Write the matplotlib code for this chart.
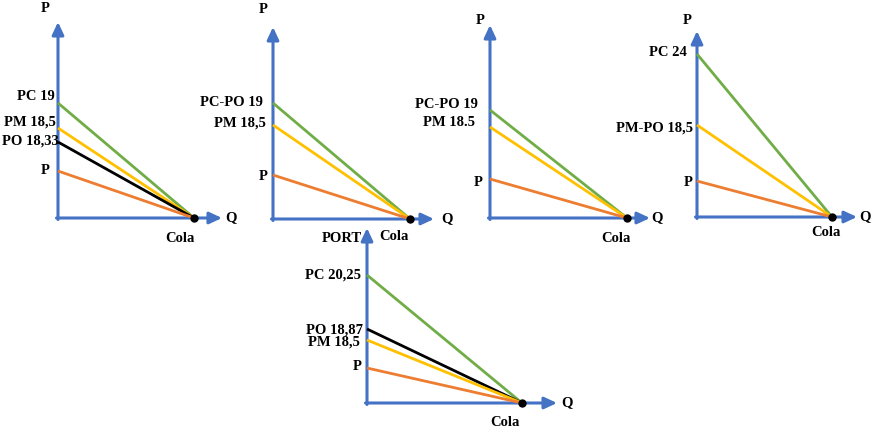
import matplotlib
matplotlib.use("Agg")
import matplotlib.pyplot as plt

W, H = 873, 433

# ---- data (heights/lengths in picture units, y up from each origin) ----
# panel 1
p1_labels = ["PC 19", "PM 18,5", "PO 18,33", "P"]
p1_heights = [115, 90, 76, 47]
p1_colors = ["green", "yellow", "black", "orange"]
p1_cola = 136
# panel 2
p2_labels = ["PC-PO 19", "PM 18,5", "P"]
p2_heights = [116, 94, 44]
p2_colors = ["green", "yellow", "orange"]
p2_cola = 137
# panel 3
p3_labels = ["PC-PO 19", "PM 18.5", "P"]
p3_heights = [108, 91, 39]
p3_colors = ["green", "yellow", "orange"]
p3_cola = 137
# panel 4
p4_labels = ["PC 24", "PM-PO 18,5", "P"]
p4_heights = [163, 92, 36]
p4_colors = ["green", "yellow", "orange"]
p4_cola = 135
# panel 5
p5_labels = ["PC 20,25", "PO 18,87", "PM 18,5", "P"]
p5_heights = [128, 74, 63, 35]
p5_colors = ["green", "black", "yellow", "orange"]
p5_cola = 155

COLORS = {"green": "#70AD47", "yellow": "#FFC000", "black": "#000000",
          "orange": "#ED7D31"}
AXIS_C = "#4472C4"

# ---- layout ----
panels = [
    dict(origin=(58, 218), xlen=164, ylen=196, labels=p1_labels, heights=p1_heights,
         colors=p1_colors, cola=p1_cola,
         label_pos=[(-3, 121), (-2, 96), (1, 77), (-8, 48)],
         top=("P", -13, 209), colapos=(122, -20), q=(173, 0)),
    dict(origin=(273, 219), xlen=161, ylen=192, labels=p2_labels, heights=p2_heights,
         colors=p2_colors, cola=p2_cola,
         label_pos=[(-10, 117), (-7, 96), (-5, 42)],
         top=("P", -10, 209), colapos=(121, -18), q=(174, 0)),
    dict(origin=(490, 218), xlen=160, ylen=193, labels=p3_labels, heights=p3_heights,
         colors=p3_colors, cola=p3_cola,
         label_pos=[(-12, 114), (-15, 95), (-7, 36)],
         top=("P", -10, 198), colapos=(126, -20), q=(167, 0)),
    dict(origin=(697, 217), xlen=160, ylen=186, labels=p4_labels, heights=p4_heights,
         colors=p4_colors, cola=p4_cola,
         label_pos=[(-10, 164), (-4, 89), (-4, 35)],
         top=("P", -10, 197), colapos=(129, -16), q=(168, 0)),
    dict(origin=(367, 403), xlen=190, ylen=175, labels=p5_labels, heights=p5_heights,
         colors=p5_colors, cola=p5_cola,
         label_pos=[(-6, 128), (-4, 73), (-7, 61), (-5, 36)],
         top=None, colapos=(138, -20), q=(200, 0),
         extra=[("PORT", -5, 164, "right")]),
]

fig = plt.figure(figsize=(W / 100, H / 100), dpi=100)
fig.patch.set_facecolor("white")
font = dict(family="Liberation Serif", fontweight="bold", fontsize=10.5, color="black")

for p in panels:
    ox, oy = p["origin"]
    xl, yl = p["xlen"], p["ylen"]
    ax = fig.add_axes([ox / W, (H - oy) / H, xl / W, yl / H])
    ax.set_xlim(0, xl)
    ax.set_ylim(0, yl)
    ax.axis("off")
    # price lines
    for h, c in zip(p["heights"], p["colors"]):
        ax.plot([0, p["cola"]], [h, 0], color=COLORS[c], lw=2.0,
                solid_capstyle="butt", clip_on=False, zorder=3)
    # axes arrows
    ap = dict(arrowstyle="-|>,head_length=0.75,head_width=0.35", color=AXIS_C,
              lw=2.2, shrinkA=0, shrinkB=0, mutation_scale=10)
    ax.annotate("", xy=(0, yl), xytext=(0, -1.5), arrowprops=ap, annotation_clip=False, zorder=2)
    ax.annotate("", xy=(xl, 0), xytext=(-1.5, 0), arrowprops=ap, annotation_clip=False, zorder=2)
    # cola point
    ax.plot([p["cola"]], [0], "o", color="black", ms=5, clip_on=False, zorder=5)
    # labels
    for lab, (lx, ly) in zip(p["labels"], p["label_pos"]):
        ax.text(lx, ly, lab, ha="right", va="center", **font)
    if p["top"]:
        t, tx, ty = p["top"]
        ax.text(tx, ty, t, ha="center", va="center", **font)
    cx, cy = p["colapos"]
    ax.text(cx, cy, "Cola", ha="center", va="center", **font)
    qx, qy = p["q"]
    ax.text(qx, qy, "Q", ha="center", va="center", **font)
    for t, tx, ty, ha in p.get("extra", []):
        ax.text(tx, ty, t, ha=ha, va="center", **font)

fig.savefig("out.png", dpi=100, facecolor="white")
